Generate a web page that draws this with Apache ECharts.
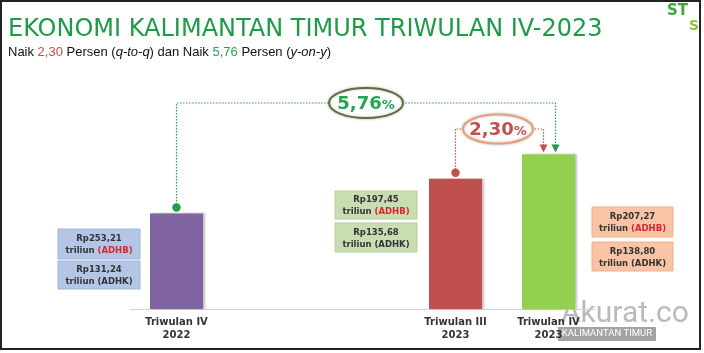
<!DOCTYPE html>
<html>
<head>
<meta charset="utf-8">
<script src="https://cdn.jsdelivr.net/npm/echarts@6/dist/echarts.min.js"></script>
<style>
  html, body { margin: 0; padding: 0; background: #fff; }
  #main { width: 704px; height: 353px; }
</style>
</head>
<body>
<div id="main"></div>
<script>
// quarters on the axis (two empty slots stand for the gap between the years)
const categories = ["Triwulan IV\n2022", "", "", "Triwulan III\n2023", "Triwulan IV\n2023"];
// PDRB ADHK (triliun rupiah) -> bar heights
const adhk = [131.24, null, null, 135.68, 138.8];
// PDRB ADHB (triliun rupiah)
const adhb = [253.21, null, null, 197.45, 207.27];
const barColors = ["#8064a2", null, null, "#c0504d", "#92d050"];
const qtq = 2.3;
const yoy = 5.76;

const fmt = (v) => v.toFixed(2).replace(".", ",");

const chart = echarts.init(document.getElementById("main"), null, { renderer: "canvas" });

const subFont = "Liberation Sans";
chart.setOption({
  backgroundColor: "#ffffff",
  animation: false,
  title: {
    left: 3,
    top: 13,
    itemGap: 4,
    text: "EKONOMI KALIMANTAN TIMUR TRIWULAN IV-2023",
    textStyle: { fontFamily: "DejaVu Sans", fontSize: 24, fontWeight: "normal", color: "#1e9a48" },
    subtext: `{b|Naik }{r|${fmt(qtq)}}{b| Persen (}{i|q-to-q}{b|) dan Naik }{g|${fmt(yoy)}}{b| Persen (}{i|y-on-y}{b|)}`,
    subtextStyle: {
      rich: {
        b: { fontFamily: subFont, fontSize: 13, color: "#111" },
        i: { fontFamily: subFont, fontSize: 13, color: "#111", fontStyle: "italic" },
        r: { fontFamily: subFont, fontSize: 13, color: "#c0504d" },
        g: { fontFamily: subFont, fontSize: 13, color: "#2aa052" }
      }
    }
  },
  grid: { left: 130, right: 109, top: 106, bottom: 44 },
  xAxis: {
    type: "category",
    data: categories,
    axisLine: { lineStyle: { color: "#d4d4d4" } },
    axisTick: { length: 5, lineStyle: { color: "#d4d4d4" } },
    axisLabel: {
      margin: 7,
      fontFamily: "DejaVu Sans",
      fontWeight: "bold",
      fontSize: 10,
      lineHeight: 13,
      color: "#333"
    }
  },
  yAxis: { type: "value", min: 119, max: 145, show: false, splitLine: { show: false } },
  series: [
    {
      type: "bar",
      barWidth: 53,
      data: adhk.map((v, i) =>
        v == null ? "-" : { value: v, itemStyle: { color: barColors[i] } }
      ),
      itemStyle: { shadowColor: "rgba(0,0,0,0.25)", shadowBlur: 2, shadowOffsetX: 2 }
    }
  ]
});

// annotations positioned from the bar tops
const top0 = chart.convertToPixel({ seriesIndex: 0 }, [0, adhk[0]]);
const top3 = chart.convertToPixel({ seriesIndex: 0 }, [3, adhk[3]]);
const top4 = chart.convertToPixel({ seriesIndex: 0 }, [4, adhk[4]]);

const green = "#2ea552";
const red = "#c0504d";
const yoyLineY = 103;
const qtqLineY = 129;
const greenArrowX = top4[0] + 7;
const redArrowX = top4[0] - 5;
const arrowTip = top4[1] - 2;

const dotted = (points, color) => ({
  type: "polyline",
  shape: { points },
  style: { stroke: color, lineWidth: 1.2, lineDash: [1.5, 1.5], fill: null },
  silent: true
});
const arrow = (x, color) => ({
  type: "polygon",
  shape: { points: [[x - 4, arrowTip - 8], [x + 4, arrowTip - 8], [x, arrowTip]] },
  style: { fill: color }
});
const dot = (p, color) => ({
  type: "circle",
  shape: { cx: p[0], cy: p[1] - 6, r: 4.2 },
  style: { fill: color }
});
const bubble = (cx, cy, rx, ry, stroke, color, num) => [
  {
    type: "ellipse",
    shape: { cx, cy, rx, ry },
    style: { fill: "#fff", stroke, lineWidth: 2, shadowColor: "rgba(0,0,0,0.25)", shadowBlur: 3 }
  },
  {
    type: "text",
    x: cx,
    y: cy + 1,
    style: {
      text: `{n|${num}}{p|%}`,
      align: "center",
      verticalAlign: "middle",
      rich: {
        n: { fontFamily: "DejaVu Sans", fontWeight: "bold", fontSize: 18, fill: color },
        p: { fontFamily: "DejaVu Sans", fontWeight: "bold", fontSize: 13, fill: color, padding: [3, 0, 0, 0] }
      }
    }
  }
];
const infoBox = (x, y, w, h, fill, border, value, tag, tagColor) => [
  {
    type: "rect",
    shape: { x, y, width: w, height: h },
    style: { fill, stroke: border, lineWidth: 1 }
  },
  {
    type: "text",
    x: x + w / 2,
    y: y + h / 2 + 1,
    style: {
      text: `{v|Rp${value}}\n{t|triliun }{c|(${tag})}`,
      align: "center",
      verticalAlign: "middle",
      rich: {
        v: { fontFamily: "DejaVu Sans", fontWeight: "bold", fontSize: 8.5, fill: "#333", lineHeight: 12, align: "center" },
        t: { fontFamily: "DejaVu Sans", fontWeight: "bold", fontSize: 8.5, fill: "#333", lineHeight: 12 },
        c: { fontFamily: "DejaVu Sans", fontWeight: "bold", fontSize: 8.5, fill: tagColor, lineHeight: 12 }
      }
    }
  }
];

const graphics = [
  dotted([[top0[0], top0[1] - 6], [top0[0], yoyLineY], [greenArrowX, yoyLineY], [greenArrowX, arrowTip - 6]], green),
  dotted([[top3[0], top3[1] - 6], [top3[0], qtqLineY], [redArrowX, qtqLineY], [redArrowX, arrowTip - 6]], red),
  arrow(greenArrowX, "#1e9a48"),
  arrow(redArrowX, red),
  dot(top0, "#1fa045"),
  dot(top3, red),
  ...bubble(366, yoyLineY, 37, 15, "#5d6f3c", "#22a552", fmt(yoy)),
  ...bubble(498, qtqLineY, 35, 14.5, "#e8a074", red, fmt(qtq)),
  ...infoBox(58, 229, 82, 30, "#b4c6e6", "#9fb4d8", fmt(adhb[0]), "ADHB", "#d9262c"),
  ...infoBox(58, 261, 82, 28, "#b4c6e6", "#9fb4d8", fmt(adhk[0]), "ADHK", "#333"),
  ...infoBox(335, 191, 82, 28, "#c9ddb3", "#b7cf9c", fmt(adhb[3]), "ADHB", "#d9262c"),
  ...infoBox(335, 223, 82, 29, "#c9ddb3", "#b7cf9c", fmt(adhk[3]), "ADHK", "#333"),
  ...infoBox(592, 207, 81, 30, "#f9c3a5", "#f3b08c", fmt(adhb[4]), "ADHB", "#d9262c"),
  ...infoBox(592, 242, 81, 29, "#f9c3a5", "#f3b08c", fmt(adhk[4]), "ADHK", "#333"),
  // watermark
  {
    type: "text",
    x: 561,
    y: 299,
    style: { text: "Akurat.co", fontFamily: "Roboto", fontSize: 30, fill: "rgba(140,140,140,0.6)" }
  },
  {
    type: "rect",
    shape: { x: 558, y: 327, width: 98, height: 14 },
    style: { fill: "rgba(140,140,140,0.8)" }
  },
  {
    type: "text",
    x: 607,
    y: 334,
    style: { text: "KALIMANTAN TIMUR", align: "center", verticalAlign: "middle", fontFamily: "Roboto", fontSize: 9.5, fill: "#fff" }
  },
  // corner logo
  {
    type: "text",
    x: 667,
    y: 4,
    style: { text: "ST", fontFamily: "DejaVu Sans", fontWeight: "bold", fontSize: 15, fill: "#3aa83c" }
  },
  {
    type: "text",
    x: 689,
    y: 19,
    style: { text: "S", fontFamily: "DejaVu Sans", fontWeight: "bold", fontSize: 14, fill: "#8cc63f" }
  },
  // frame
  {
    type: "rect",
    shape: { x: 1, y: 1, width: 699, height: 348 },
    style: { fill: null, stroke: "#222", lineWidth: 2 }
  }
];

chart.setOption({ graphic: graphics });
</script>
</body>
</html>
